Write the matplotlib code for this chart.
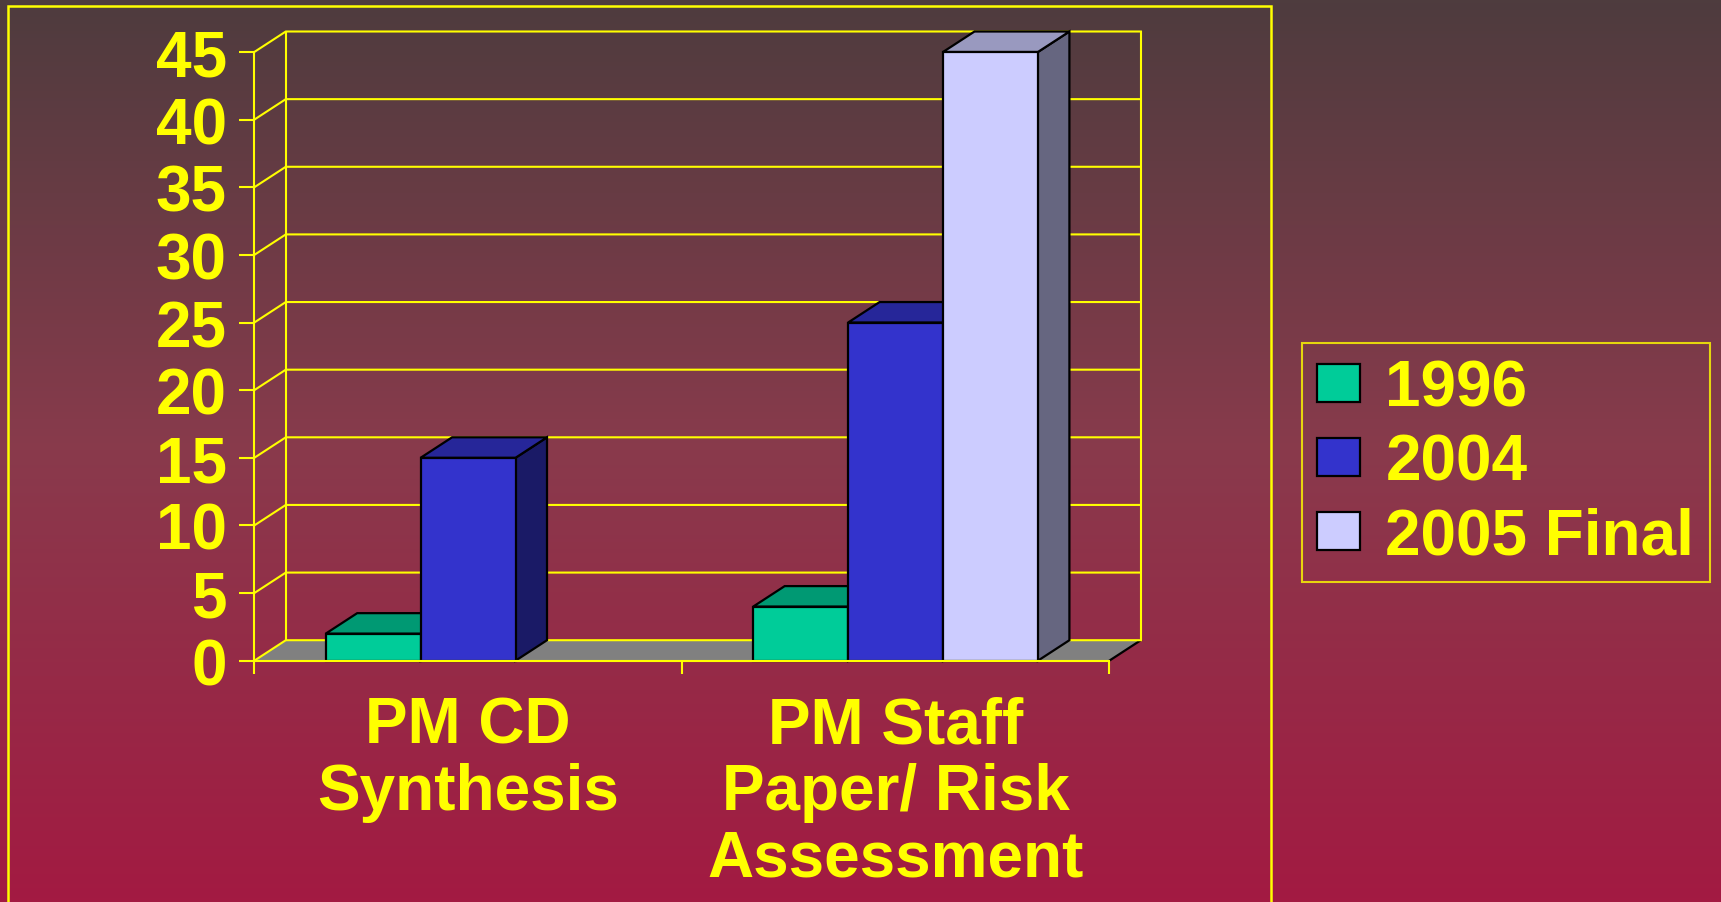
import numpy as np
import matplotlib
matplotlib.use("Agg")
from matplotlib import pyplot as plt
import matplotlib.patches as mpatches
from matplotlib.colors import LinearSegmentedColormap

# Chart data
categories = ["PM CD\nSynthesis", "PM Staff\nPaper/ Risk\nAssessment"]
series = ["1996", "2004", "2005 Final"]
vals_1996 = [2, 4]
vals_2004 = [15, 25]
vals_2005 = [0, 45]
y_ticks = [0, 5, 10, 15, 20, 25, 30, 35, 40, 45]

# Face colours (front, top, side) per series
front_colors = ["#00CC99", "#3333CC", "#CCCCFF"]
top_colors = ["#009973", "#262699", "#9999BF"]
side_colors = ["#006650", "#1A1A66", "#666680"]

YELLOW = "#FFFF00"
DX, DY = 0.0737, 1.515   # 3D depth offset in data units
BAR_W = 0.222
FS = 46

plt.rcParams["font.family"] = ["Liberation Sans", "DejaVu Sans"]
plt.rcParams["font.weight"] = "bold"

fig = plt.figure(figsize=(17.21, 9.03), dpi=100)

# Background gradient
bg = fig.add_axes([0, 0, 1, 1], zorder=-10)
cmap = LinearSegmentedColormap.from_list(
    "bg", [(0.0, "#4e3c3e"), (0.5, "#893a4c"), (1.0, "#a31a42")])
bg.imshow(np.linspace(0, 1, 256).reshape(-1, 1), cmap=cmap, aspect="auto",
          extent=[0, 1, 0, 1])
bg.set_axis_off()

# Outer yellow frame
fig.patches.append(mpatches.Rectangle(
    (8 / 1721, -0.02), 1263 / 1721, 1 - 7 / 903 + 0.02, transform=fig.transFigure,
    fill=False, edgecolor=YELLOW, linewidth=1.8))

ax = fig.add_axes([254.3 / 1721, 1 - 661.7 / 903, 855 / 1721, 608.7 / 903])
ax.set_facecolor("none")
ax.set_xlim(0, 2)
ax.set_ylim(0, 45)

# Floor
floor = mpatches.Polygon([(0, 0), (2, 0), (2 + DX, DY), (DX, DY)], closed=True,
                         facecolor="#808080", edgecolor="none", zorder=1, clip_on=False)
ax.add_patch(floor)
ax.plot([2, 2 + DX], [0, DY], color="black", lw=1.6, zorder=1.5, clip_on=False)

# Walls and gridlines
for k in y_ticks:
    ax.plot([0, DX, 2 + DX], [k, k + DY, k + DY], color=YELLOW, lw=1.5,
            zorder=2, clip_on=False)
ax.plot([DX, DX], [DY, 45 + DY], color=YELLOW, lw=1.5, zorder=2, clip_on=False)
ax.plot([2 + DX, 2 + DX], [DY, 45 + DY], color=YELLOW, lw=1.5, zorder=2, clip_on=False)

# 3D bars
all_vals = [vals_1996, vals_2004, vals_2005]
for ci in range(len(categories)):
    for si, vals in enumerate(all_vals):
        h = vals[ci]
        if h <= 0:
            continue
        x0 = ci + 0.5 + (si - 1) * BAR_W - BAR_W / 2
        x1 = x0 + BAR_W
        z = 3 + si
        ax.add_patch(mpatches.Polygon([(x1, 0), (x1 + DX, DY), (x1 + DX, h + DY), (x1, h)],
                                      facecolor=side_colors[si], edgecolor="black",
                                      lw=1.6, zorder=z, clip_on=False))
        ax.add_patch(mpatches.Polygon([(x0, h), (x1, h), (x1 + DX, h + DY), (x0 + DX, h + DY)],
                                      facecolor=top_colors[si], edgecolor="black",
                                      lw=1.6, zorder=z, clip_on=False))
        ax.add_patch(mpatches.Rectangle((x0, 0), BAR_W, h, facecolor=front_colors[si],
                                        edgecolor="black", lw=1.6, zorder=z, clip_on=False))

# Axes presentation
for s in ["top", "right"]:
    ax.spines[s].set_visible(False)
for s in ["left", "bottom"]:
    ax.spines[s].set_color(YELLOW)
    ax.spines[s].set_linewidth(1.5)
    ax.spines[s].set_zorder(10)

ax.set_yticks(y_ticks)
ax.tick_params(axis="y", colors=YELLOW, length=10.8, width=1.5, pad=9,
               labelsize=FS)
ax.set_xticks([0, 1, 2])
ax.set_xticklabels([])
ax.tick_params(axis="x", which="major", colors=YELLOW, length=9, width=1.5)
ax.set_xticks([0.5, 1.5], categories, minor=True)
ax.tick_params(axis="x", which="minor", length=0, pad=25, labelsize=FS,
               labelcolor=YELLOW)
for lbl in ax.get_xticklabels(minor=True):
    lbl.set_linespacing(1.14)

# Legend
patches = [mpatches.Patch(facecolor=c, edgecolor="black", lw=1.6, label=s)
           for c, s in zip(front_colors, series)]
leg = ax.legend(handles=patches, loc="center left",
                bbox_to_anchor=(1301.7 / 1721, 1 - 463.5 / 903),
                bbox_transform=fig.transFigure, borderaxespad=0,
                fontsize=FS, handlelength=0.67, handleheight=0.53,
                handletextpad=0.4, labelspacing=0.22, borderpad=0.24,
                frameon=True, fancybox=False)
leg.get_frame().set_facecolor("none")
leg.get_frame().set_edgecolor(YELLOW)
leg.get_frame().set_linewidth(1.5)
for t in leg.get_texts():
    t.set_color(YELLOW)

fig.savefig("out.png", dpi=100)
